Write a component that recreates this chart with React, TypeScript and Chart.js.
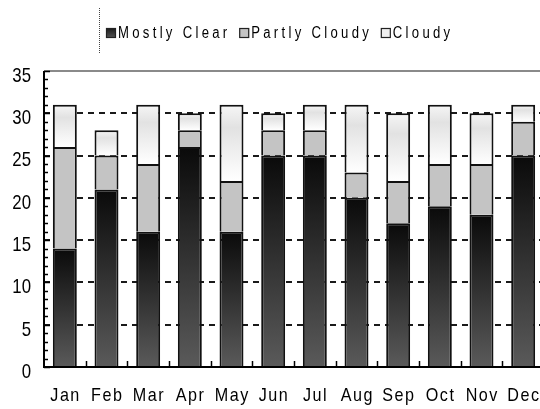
import React, { useEffect, useRef } from "react";
import { Chart, registerables } from "chart.js";

Chart.register(...registerables);

const months = ["Jan", "Feb", "Mar", "Apr", "May", "Jun", "Jul", "Aug", "Sep", "Oct", "Nov", "Dec"];
const mostlyClear = [14, 21, 16, 26, 16, 25, 25, 20, 17, 19, 18, 25];
const partlyCloudy = [12, 4, 8, 2, 6, 3, 3, 3, 5, 5, 6, 4];
const cloudy = [5, 3, 7, 2, 9, 2, 3, 8, 8, 7, 6, 2];
const seriesNames = ["Mostly Clear", "Partly Cloudy", "Cloudy"];
const yTicks = [0, 5, 10, 15, 20, 25, 30, 35];

const FONT = "'Liberation Sans', Arial, sans-serif";

function clearFill(ctx: any) {
  const chart = ctx.chart;
  if (!chart.chartArea || ctx.type !== "data") return "#333";
  const y = chart.scales.y;
  const i = ctx.dataIndex;
  const top = y.getPixelForValue(mostlyClear[i]);
  const bottom = y.getPixelForValue(0);
  const g = chart.ctx.createLinearGradient(0, top, 0, bottom);
  g.addColorStop(0, "#0a0a0a");
  g.addColorStop(1, "#5a5a5a");
  return g;
}

function cloudyFill(ctx: any) {
  const chart = ctx.chart;
  if (!chart.chartArea || ctx.type !== "data") return "#eee";
  const y = chart.scales.y;
  const i = ctx.dataIndex;
  const base = mostlyClear[i] + partlyCloudy[i];
  const top = y.getPixelForValue(base + cloudy[i]);
  const bottom = y.getPixelForValue(base);
  const g = chart.ctx.createLinearGradient(0, top, 0, bottom);
  g.addColorStop(0, "#f6f6f6");
  g.addColorStop(0.3, "#e2e2e2");
  g.addColorStop(1, "#ffffff");
  return g;
}

// draw horizontally condensed text; returns drawn width
function narrowText(
  ctx: CanvasRenderingContext2D,
  text: string,
  x: number,
  y: number,
  align: "left" | "center" | "right",
  size: number,
  sx: number,
  spacing: number
) {
  ctx.save();
  ctx.font = `${size}px ${FONT}`;
  (ctx as any).letterSpacing = `${spacing / sx}px`;
  ctx.textBaseline = "middle";
  ctx.textAlign = "left";
  const w = ctx.measureText(text).width * sx - spacing;
  let left = x;
  if (align === "center") left = x - w / 2;
  else if (align === "right") left = x - w;
  ctx.translate(left, y);
  ctx.scale(sx, 1);
  ctx.fillStyle = "#000";
  ctx.fillText(text, 0, 0);
  ctx.restore();
  return w;
}

const decorPlugin = {
  id: "decor",
  afterDatasetsDraw(chart: any) {
    const { ctx, chartArea, scales } = chart;
    const x = scales.x;
    const y = scales.y;
    ctx.save();
    // top border
    ctx.strokeStyle = "#8a8a8a";
    ctx.lineWidth = 2;
    ctx.beginPath();
    ctx.moveTo(chartArea.left, chartArea.top);
    ctx.lineTo(chartArea.right, chartArea.top);
    ctx.stroke();
    // y minor ticks (inside)
    ctx.strokeStyle = "#000";
    ctx.lineWidth = 1.5;
    for (let v = 0; v <= 35; v++) {
      const py = Math.round(y.getPixelForValue(v)) + 0.5;
      const len = v % 5 === 0 ? 6 : 4;
      ctx.beginPath();
      ctx.moveTo(chartArea.left, py);
      ctx.lineTo(chartArea.left + len, py);
      ctx.stroke();
    }
    // x boundary ticks (inside)
    for (let i = 1; i < months.length; i++) {
      const px = Math.round((x.getPixelForValue(i - 1) + x.getPixelForValue(i)) / 2) + 0.5;
      ctx.beginPath();
      ctx.moveTo(px, chartArea.bottom);
      ctx.lineTo(px, chartArea.bottom - 6);
      ctx.stroke();
    }
    // axes
    ctx.lineWidth = 2;
    ctx.beginPath();
    ctx.moveTo(chartArea.left, chartArea.top);
    ctx.lineTo(chartArea.left, chartArea.bottom);
    ctx.lineTo(chartArea.right, chartArea.bottom);
    ctx.stroke();
    ctx.restore();
  },
  afterDraw(chart: any) {
    const { ctx, chartArea, scales } = chart;
    const x = scales.x;
    const y = scales.y;
    // y labels
    yTicks.forEach((v) => {
      narrowText(ctx, String(v), 31, y.getPixelForValue(v) + 5, "right", 21, 0.8, 0);
    });
    // x labels
    months.forEach((m, i) => {
      narrowText(ctx, m, x.getPixelForValue(i), chartArea.bottom + 29, "center", 19, 0.85, 1.5);
    });
    // legend
    ctx.save();
    ctx.strokeStyle = "#444";
    ctx.lineWidth = 1;
    ctx.setLineDash([1, 1]);
    ctx.beginPath();
    ctx.moveTo(99.5, 8);
    ctx.lineTo(99.5, 54);
    ctx.stroke();
    ctx.setLineDash([]);
    const g = ctx.createLinearGradient(0, 28, 0, 38);
    g.addColorStop(0, "#1a1a1a");
    g.addColorStop(1, "#555");
    const fills: any[] = [g, "#c4c4c4", "#efefef"];
    let lx = 106;
    const boxTop = 28;
    const box = 10;
    seriesNames.forEach((name, i) => {
      ctx.fillStyle = fills[i];
      ctx.fillRect(lx, boxTop, box, box);
      ctx.strokeStyle = "#222";
      ctx.lineWidth = 1.2;
      ctx.strokeRect(lx + 0.5, boxTop + 0.5, box - 1, box - 1);
      const w = narrowText(ctx, name, lx + box + 2, boxTop + box / 2 + 1, "left", 16, 0.82, 3.3);
      lx += box + 2 + w + 12;
    });
    ctx.restore();
  },
};

export default function App() {
  const ref = useRef<HTMLCanvasElement>(null);
  useEffect(() => {
    document.body.style.margin = "0";
    document.body.style.overflow = "hidden";
    const canvas = ref.current!;
    const chart = new Chart(canvas, {
      type: "bar",
      data: {
        labels: months,
        datasets: [
          { label: seriesNames[0], data: mostlyClear, backgroundColor: clearFill as any },
          { label: seriesNames[1], data: partlyCloudy, backgroundColor: "#c4c4c4" },
          { label: seriesNames[2], data: cloudy, backgroundColor: cloudyFill as any },
        ].map((d) => ({
          ...d,
          borderColor: "#111",
          borderWidth: 2,
          barPercentage: 0.575,
          categoryPercentage: 1,
        })),
      },
      plugins: [decorPlugin],
      options: {
        animation: false,
        responsive: false,
        devicePixelRatio: 1,
        layout: { padding: { top: 71, right: 0, left: 0, bottom: 0 } },
        plugins: { legend: { display: false }, tooltip: { enabled: false } },
        scales: {
          x: {
            stacked: true,
            grid: { display: false },
            border: { display: false },
            ticks: { display: false },
            afterFit: (s: any) => {
              s.height = 42;
            },
          },
          y: {
            stacked: true,
            min: 0,
            max: 35,
            afterBuildTicks: (s: any) => {
              s.ticks = yTicks.map((v) => ({ value: v }));
            },
            grid: {
              color: (c: any) =>
                c.tick && (c.tick.value === 0 || c.tick.value === 35) ? "rgba(0,0,0,0)" : "#1a1a1a",
              lineWidth: 2,
              drawTicks: false,
            },
            border: { display: false, dash: [6, 5] },
            ticks: { display: false },
            afterFit: (s: any) => {
              s.width = 44;
            },
          },
        },
      },
    });
    return () => chart.destroy();
  }, []);
  return (
    <div style={{ position: "fixed", left: 0, top: 0, width: 544, height: 409 }}>
      <canvas ref={ref} width={544} height={409} />
    </div>
  );
}
